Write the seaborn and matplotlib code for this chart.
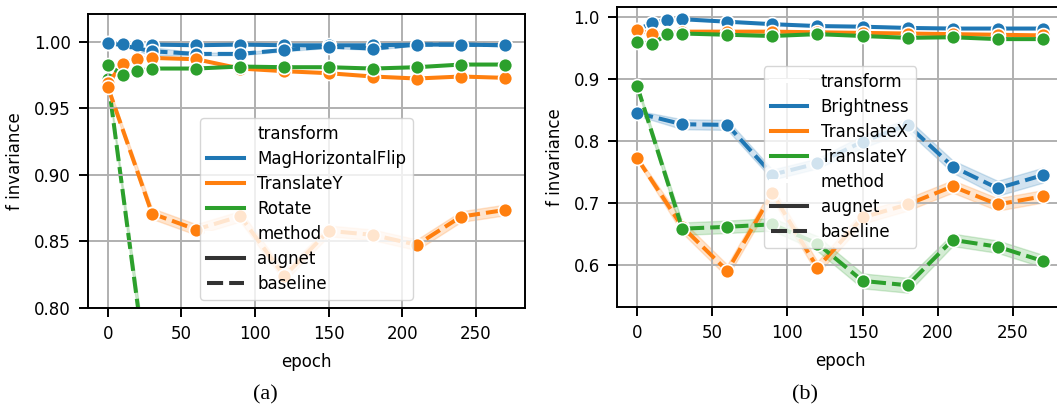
import numpy as np
import pandas as pd
import matplotlib
matplotlib.use('Agg')
import matplotlib.pyplot as plt
import seaborn as sns

aug_epochs=[0, 10, 20, 30, 60, 90, 120, 150, 180, 210, 240, 270]
base_epochs=[0, 30, 60, 90, 120, 150, 180, 210, 240, 270]
methods=['augnet', 'baseline']

# panel (a)
a_transforms=['MagHorizontalFlip', 'TranslateY', 'Rotate']
a_flip_aug=[0.9995, 0.9985, 0.998, 0.998, 0.9975, 0.998, 0.9975, 0.9975, 0.9975, 0.998, 0.998, 0.9975]
a_flip_base=[0.9995, 0.993, 0.991, 0.991, 0.994, 0.9965, 0.995, 0.998, 0.998, 0.9975]
a_flip_base_sd=[0.0, 0.003, 0.001, 0.001, 0.001, 0.001, 0.001, 0.0005, 0.0005, 0.0005]
a_ty_aug=[0.969, 0.9835, 0.987, 0.988, 0.987, 0.980, 0.978, 0.9765, 0.974, 0.9725, 0.974, 0.973]
a_ty_base=[0.966, 0.871, 0.859, 0.869, 0.824, 0.858, 0.855, 0.8475, 0.8687, 0.8737]
a_ty_base_sd=[0.002, 0.004, 0.004, 0.004, 0.004, 0.004, 0.004, 0.004, 0.004, 0.004]
a_rot_aug=[0.983, 0.975, 0.978, 0.980, 0.980, 0.9815, 0.981, 0.981, 0.980, 0.981, 0.983, 0.983]
a_rot_base=[0.972, 0.72, 0.70, 0.69, 0.71, 0.70, 0.70, 0.69, 0.70, 0.70]
a_rot_base_sd=[0.002, 0.01, 0.01, 0.01, 0.01, 0.01, 0.01, 0.01, 0.01, 0.01]

# panel (b)
b_transforms=['Brightness', 'TranslateX', 'TranslateY']
b_bri_aug=[0.979, 0.990, 0.995, 0.996, 0.992, 0.988, 0.985, 0.984, 0.982, 0.981, 0.981, 0.981]
b_bri_base=[0.845, 0.827, 0.826, 0.746, 0.764, 0.799, 0.826, 0.759, 0.724, 0.745]
b_bri_base_sd=[0.004, 0.008, 0.008, 0.008, 0.008, 0.01, 0.01, 0.01, 0.012, 0.012]
b_tx_aug=[0.979, 0.972, 0.974, 0.976, 0.976, 0.976, 0.975, 0.974, 0.973, 0.972, 0.971, 0.970]
b_tx_base=[0.772, 0.662, 0.591, 0.716, 0.596, 0.677, 0.698, 0.727, 0.698, 0.711]
b_tx_base_sd=[0.004, 0.01, 0.01, 0.01, 0.01, 0.01, 0.01, 0.01, 0.01, 0.01]
b_ty_aug=[0.960, 0.956, 0.972, 0.973, 0.971, 0.969, 0.972, 0.969, 0.966, 0.967, 0.964, 0.964]
b_ty_base=[0.888, 0.659, 0.662, 0.666, 0.635, 0.575, 0.568, 0.641, 0.630, 0.607]
b_ty_base_sd=[0.004, 0.01, 0.01, 0.01, 0.012, 0.012, 0.012, 0.01, 0.01, 0.01]

colors=sns.color_palette('tab10', 3)


def build(transforms, aug, base, base_sd):
    rows=[]
    for tr, av, bv, bs in zip(transforms, aug, base, base_sd):
        for e, v in zip(aug_epochs, av):
            rows.append((tr, methods[0], e, v))
        for e, v, s in zip(base_epochs, bv, bs):
            rows.append((tr, methods[1], e, v-s))
            rows.append((tr, methods[1], e, v+s))
    return pd.DataFrame(rows, columns=['transform', 'method', 'epoch', 'f invariance'])


df_a=build(a_transforms, [a_flip_aug, a_ty_aug, a_rot_aug],
           [a_flip_base, a_ty_base, a_rot_base], [a_flip_base_sd, a_ty_base_sd, a_rot_base_sd])
df_b=build(b_transforms, [b_bri_aug, b_tx_aug, b_ty_aug],
           [b_bri_base, b_tx_base, b_ty_base], [b_bri_base_sd, b_tx_base_sd, b_ty_base_sd])

plt.rcParams['font.family']='DejaVu Sans'
plt.rcParams['font.size']=12

fig=plt.figure(figsize=(10.57, 4.09), dpi=100)
ax1=fig.add_axes([0.0833, 0.2469, 0.4134, 0.7189])
ax2=fig.add_axes([0.5837, 0.2494, 0.422, 0.734])

for ax, df, loc in [(ax1, df_a, 'lower center'), (ax2, df_b, 'center')]:
    sns.lineplot(data=df, x='epoch', y='f invariance', hue='transform', style='method',
                 marker='o', markersize=10, markeredgecolor='white', markeredgewidth=1.2,
                 linewidth=2.9, palette=colors, errorbar=('pi', 100), ax=ax)
    ax.grid(True, color='#b0b0b0', linewidth=1.4)
    for sp in ax.spines.values():
        sp.set_linewidth(1.4)
        sp.set_color('black')
    ax.tick_params(length=6.3, width=1.4, pad=6, labelsize=12)
    ax.set_xlabel('epoch', fontsize=12, labelpad=7)
    ax.set_ylabel('f invariance', fontsize=12, labelpad=7)
    sns.move_legend(ax, loc, fontsize=12, labelspacing=0.42, handlelength=2.2, framealpha=0.8)
    for ln in ax.get_legend().get_lines():
        ln.set_marker('')
        ln.set_linewidth(2.9)

# the Rotate baseline collapses right away; keep it under the other series
ax1.lines[5].set_zorder(1.5)

ax1.set_ylim(0.80, 1.021)
ax1.set_yticks([0.80, 0.85, 0.90, 0.95, 1.00])
ax2.set_ylim(0.533, 1.016)
ax2.set_yticks([0.6, 0.7, 0.8, 0.9, 1.0])

fig.text(265/1057, 1-395/409, '(a)', family='Liberation Serif', fontsize=16, ha='center', va='center')
fig.text(805/1057, 1-395/409, '(b)', family='Liberation Serif', fontsize=16, ha='center', va='center')

fig.savefig('out.png', dpi=100)
